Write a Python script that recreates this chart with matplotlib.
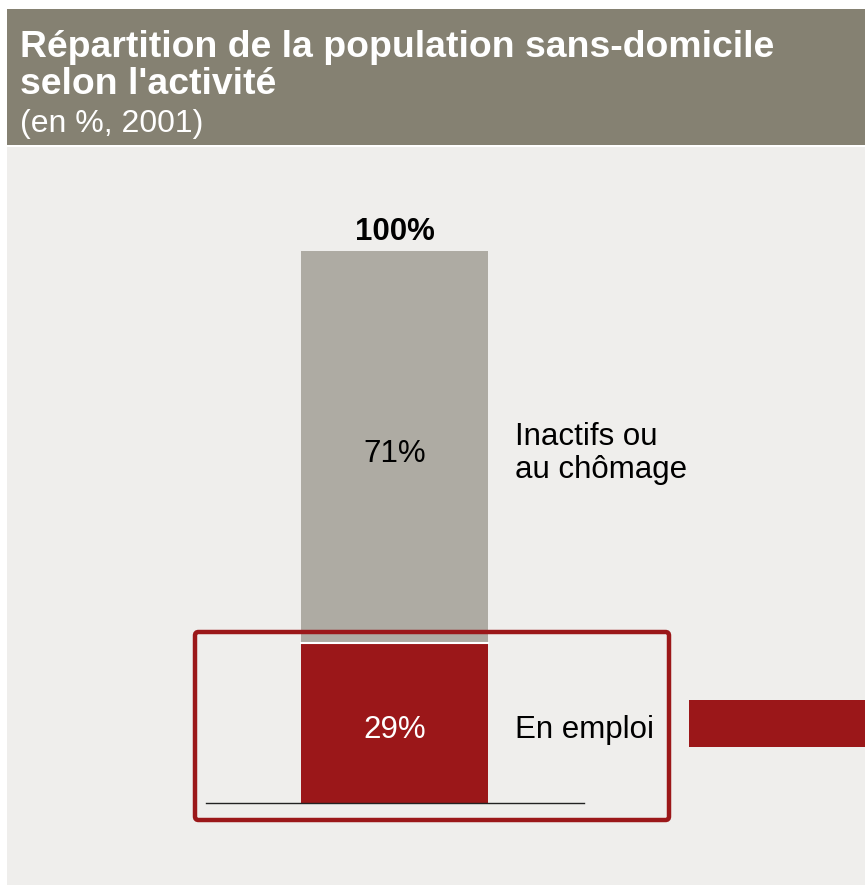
import matplotlib
matplotlib.use("Agg")
import matplotlib.pyplot as plt
from matplotlib.patches import Rectangle, FancyBboxPatch

plt.rcParams['font.family'] = ['Liberation Sans', 'DejaVu Sans']

# Data
categories = ["En emploi", "Inactifs ou\nau chômage"]
values = [29, 71]
total_label = "100%"
colors = ["#9b1719", "#aeaba3"]
title = "Répartition de la population sans-domicile\nselon l'activité"
subtitle = "(en %, 2001)"

W, H = 865, 893
fig = plt.figure(figsize=(W / 100, H / 100), dpi=100)
fig.patch.set_facecolor("white")

def fx(px):
    return px / W

def fy(py):
    return 1 - py / H

# header and body backgrounds
fig.patches.append(Rectangle((fx(7), fy(145)), fx(865 - 7), 136 / H,
                             transform=fig.transFigure, facecolor="#858172",
                             edgecolor="none", zorder=-10))
fig.patches.append(Rectangle((fx(7), fy(885)), fx(865 - 7), 738 / H,
                             transform=fig.transFigure, facecolor="#efeeec",
                             edgecolor="none", zorder=-10))

fig.text(fx(20), fy(57), title.split("\n")[0], color="white", fontsize=26.9,
         fontweight="bold", va="baseline", ha="left")
fig.text(fx(20), fy(94), title.split("\n")[1], color="white", fontsize=26.9,
         fontweight="bold", va="baseline", ha="left")
fig.text(fx(20), fy(132), subtitle, color="white", fontsize=23,
         va="baseline", ha="left")

# main axes: x from px 206 to 584, y from px 803 (0) to 251 (100)
ax = fig.add_axes([fx(206), fy(803), fx(584 - 206), (803 - 251) / H])
ax.set_facecolor("none")
ax.set_xlim(-1.008, 1.013)
ax.set_ylim(0, 100)

shift = -1.2
bottom = 0
for cat, v, c in zip(categories, values, colors):
    ax.bar(0, v, width=1.0, bottom=bottom, color=c, edgecolor="none", zorder=2)
    ax.text(0, bottom + v / 2 + shift, f"{v}%", ha="center", va="center",
            fontsize=22.5, color="white" if c == colors[0] else "black", zorder=3)
    ax.text(0.645, bottom + v / 2 + shift, cat, ha="left", va="center", fontsize=22.5,
            color="black", linespacing=1.1, clip_on=False)
    bottom += v
# white separator between segments
ax.plot([-0.5, 0.5], [values[0], values[0]], color="white", lw=1.5, zorder=4)

ax.text(0, sum(values) + 2.0, total_label, ha="center", va="baseline",
        fontsize=22.5, fontweight="bold")

for s in ["top", "right", "left"]:
    ax.spines[s].set_visible(False)
ax.spines["bottom"].set_color("#222222")
ax.spines["bottom"].set_linewidth(1.0)
ax.set_xticks([])
ax.set_yticks([])

# highlight box around the "En emploi" segment
fig.patches.append(FancyBboxPatch((fx(195), fy(820)), fx(669 - 195), (820 - 632) / H,
                                  boxstyle="round,pad=0,rounding_size=0.004",
                                  transform=fig.transFigure, facecolor="none",
                                  edgecolor="#9b1719", linewidth=3.2, zorder=5))
# red pointer bar at right
fig.patches.append(Rectangle((fx(689), fy(747)), fx(865 - 689), 47 / H,
                             transform=fig.transFigure, facecolor="#9b1719",
                             edgecolor="none", zorder=5))

fig.savefig("out.png", dpi=100)
